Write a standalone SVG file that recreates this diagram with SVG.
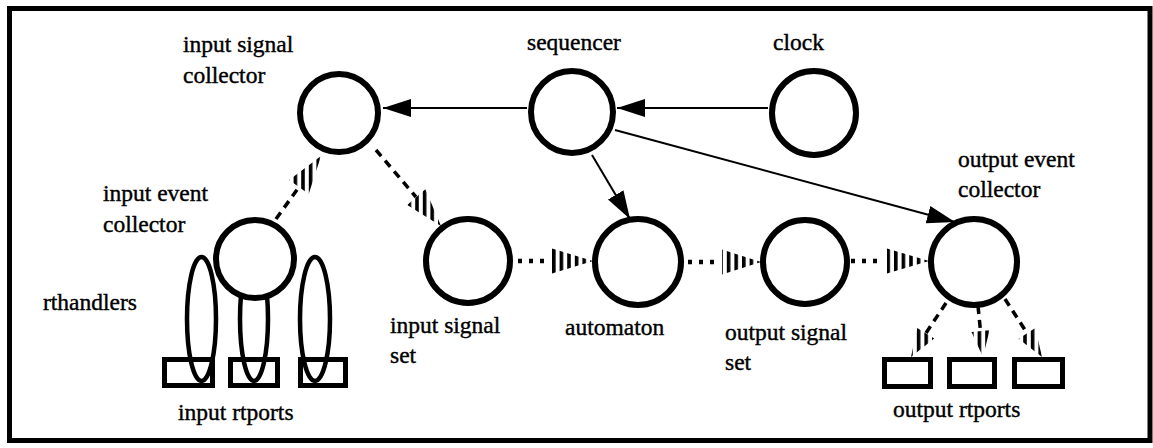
<svg xmlns="http://www.w3.org/2000/svg" width="1153" height="448" viewBox="0 0 1153 448">
<style>
  .node { fill: #fff; stroke: #000; stroke-width: 6; }
  .port { fill: none; stroke: #000; stroke-width: 5; }
  .hand { fill: none; stroke: #000; stroke-width: 4.5; }
  .solid { stroke: #000; stroke-width: 2; fill: none; }
  .dots { stroke: #000; stroke-width: 4.5; stroke-dasharray: 4 7; fill: none; }
  .dash { stroke: #000; stroke-width: 3.5; stroke-dasharray: 8 6; fill: none; }
  .head { fill: url(#stripes); stroke: none; }
  .lbl { font-family: 'Liberation Serif', 'DejaVu Serif', 'Times New Roman', serif; font-size: 23.5px; fill: #000; stroke: #000; stroke-width: 0.4; }
</style>
<defs>
  <marker id="ah" markerUnits="userSpaceOnUse" markerWidth="30" markerHeight="20" viewBox="0 -10 30 20" refX="28" refY="0" orient="auto">
    <path d="M28,0 L0,-9 L0,9 z" fill="#000"/>
  </marker>
  <pattern id="stripes" patternUnits="userSpaceOnUse" x="4.8" y="0" width="7.6" height="20">
    <rect width="3.6" height="20" fill="#000"/>
  </pattern>
</defs>
<rect x="9.5" y="8.5" width="1140.5" height="432" fill="none" stroke="#000" stroke-width="5"/>

<g id="connectors">
  <line class="solid" x1="768" y1="108" x2="617" y2="108" marker-end="url(#ah)"/>
  <line class="solid" x1="527" y1="108" x2="383" y2="108" marker-end="url(#ah)"/>
  <line class="solid" x1="592" y1="155" x2="630" y2="219" marker-end="url(#ah)"/>
  <line class="solid" x1="615" y1="130" x2="955" y2="222" marker-end="url(#ah)"/>

  <line class="dots" x1="518" y1="261" x2="548" y2="261"/>
  <polygon class="head" points="552,248.5 552,273.5 593,261"/>
  <line class="dots" x1="688" y1="262" x2="718" y2="262"/>
  <polygon class="head" points="722,249.5 722,274.5 761,262"/>
  <line class="dots" x1="851" y1="261" x2="883" y2="261"/>
  <polygon class="head" points="887,248.5 887,273.5 929,261"/>

  <line class="dash" x1="276" y1="219" x2="299" y2="187"/>
  <polygon class="head" points="321,156 308.7,193.9 289.1,179.9"/>
  <line class="dash" x1="376" y1="150" x2="416" y2="197"/>
  <polygon class="head" points="441,226 425.4,189.3 407.2,204.9"/>

  <line class="dash" x1="946" y1="303" x2="926" y2="333"/>
  <polygon class="head" points="911,357 934.2,338.5 917.2,327.9"/>
  <line class="dash" x1="978" y1="306" x2="980.5" y2="331"/>
  <polygon class="head" points="983,357 989.5,330.2 971.5,332"/>
  <line class="dash" x1="1005" y1="299" x2="1027" y2="333"/>
  <polygon class="head" points="1042,357 1035.3,328 1018.5,338.8"/>
</g>

<g id="input-rtports">
  <rect class="port" x="164.5" y="359.5" width="48" height="26"/>
  <rect class="port" x="230.5" y="359.5" width="47" height="26"/>
  <rect class="port" x="300.5" y="359.5" width="45" height="26"/>
  <text class="lbl" x="178" y="420">input rtports</text>
</g>
<g id="rthandlers">
  <ellipse class="hand" cx="201.5" cy="319" rx="14.5" ry="62"/>
  <ellipse class="hand" cx="254" cy="319" rx="14" ry="62"/>
  <ellipse class="hand" cx="315" cy="319" rx="15" ry="62"/>
  <text class="lbl" x="43" y="310">rthandlers</text>
</g>
<g id="input-signal-collector">
  <circle class="node" cx="339" cy="113" r="39"/>
  <text class="lbl" x="183" y="52">input signal</text>
  <text class="lbl" x="183" y="83">collector</text>
</g>
<g id="sequencer">
  <circle class="node" cx="572" cy="112" r="41"/>
  <text class="lbl" x="527" y="50">sequencer</text>
</g>
<g id="clock">
  <circle class="node" cx="814" cy="113" r="42"/>
  <text class="lbl" x="773" y="50">clock</text>
</g>
<g id="input-event-collector">
  <circle class="node" cx="255" cy="259" r="39"/>
  <text class="lbl" x="103" y="201">input event</text>
  <text class="lbl" x="103" y="232">collector</text>
</g>
<g id="input-signal-set">
  <circle class="node" cx="468" cy="261" r="42"/>
  <text class="lbl" x="390" y="333">input signal</text>
  <text class="lbl" x="390" y="363">set</text>
</g>
<g id="automaton">
  <circle class="node" cx="638" cy="262" r="43"/>
  <text class="lbl" x="565" y="335">automaton</text>
</g>
<g id="output-signal-set">
  <circle class="node" cx="805" cy="262" r="42"/>
  <text class="lbl" x="725" y="340">output signal</text>
  <text class="lbl" x="725" y="370">set</text>
</g>
<g id="output-event-collector">
  <circle class="node" cx="974" cy="262" r="43"/>
  <text class="lbl" x="958" y="167">output event</text>
  <text class="lbl" x="958" y="197">collector</text>
</g>
<g id="output-rtports">
  <rect class="port" x="884.5" y="359.5" width="46" height="27"/>
  <rect class="port" x="949.5" y="359.5" width="45" height="27"/>
  <rect class="port" x="1014.5" y="359.5" width="48" height="27"/>
  <text class="lbl" x="893" y="417">output rtports</text>
</g>
</svg>
